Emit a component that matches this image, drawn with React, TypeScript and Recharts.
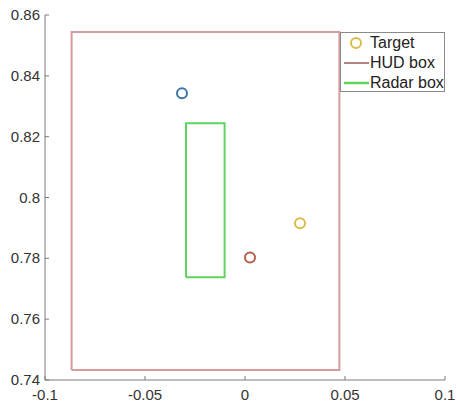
import { ScatterChart, Scatter, XAxis, YAxis } from "recharts";

// axis ticks
const xTicks = [-0.1, -0.05, 0, 0.05, 0.1];
const yTicks = [0.74, 0.76, 0.78, 0.8, 0.82, 0.84, 0.86];

// HUD box corners (x range, y range)
const hudX = [-0.0867, 0.0472];
const hudY = [0.7433, 0.8544];

// Radar box corners
const radarX = [-0.0295, -0.0102];
const radarY = [0.7738, 0.8244];

// circles
const blueDot = [{ x: -0.0315, y: 0.8343 }];
const redDot = [{ x: 0.0025, y: 0.7803 }];
const targetDot = [{ x: 0.0275, y: 0.7915 }];

const AXIS = "#7a7a7a";
const FONT = "'Liberation Sans', Arial, sans-serif";

function rect(xs: number[], ys: number[]) {
    return [
        { x: xs[0], y: ys[0] },
        { x: xs[1], y: ys[0] },
        { x: xs[1], y: ys[1] },
        { x: xs[0], y: ys[1] },
        { x: xs[0], y: ys[0] },
    ];
}

const ring = (color: string) => (p: any) => (
    <circle cx={p.cx} cy={p.cy} r={5} fill="none" stroke={color} strokeWidth={2} />
);

const noShape = () => <g />;

function XTick(p: any) {
    const v = p.payload.value;
    return (
        <g>
            <line x1={p.x} y1={p.y} x2={p.x} y2={p.y - 4} stroke={AXIS} />
            <text x={p.x} y={p.y + 20} textAnchor="middle" fontSize={15} fill="#333" fontFamily={FONT}>
                {v === 0 ? "0" : String(v)}
            </text>
        </g>
    );
}

function YTick(p: any) {
    const v = p.payload.value;
    return (
        <g>
            <line x1={p.x} y1={p.y} x2={p.x + 4} y2={p.y} stroke={AXIS} />
            <text x={p.x - 5} y={p.y + 5} textAnchor="end" fontSize={15} fill="#333" fontFamily={FONT}>
                {String(v)}
            </text>
        </g>
    );
}

function LegendBox() {
    const rows = [
        { label: "Target", kind: "ring", color: "#dcbc48" },
        { label: "HUD box", kind: "line", color: "#9a5a5a" },
        { label: "Radar box", kind: "line", color: "#5fd35f" },
    ];
    return (
        <div
            style={{
                position: "absolute",
                left: 340,
                top: 32,
                width: 105,
                height: 60,
                border: "1px solid #8a8a8a",
                background: "white",
                fontFamily: FONT,
                fontSize: 16,
                color: "#222",
                boxSizing: "border-box",
            }}
        >
            {rows.map((r, i) => (
                <div key={r.label} style={{ position: "absolute", left: 3, top: 1 + i * 19.8, height: 18, display: "flex", alignItems: "center" }}>
                    <svg width={25} height={18}>
                        {r.kind === "ring" ? (
                            <circle cx={12} cy={9} r={5} fill="none" stroke={r.color} strokeWidth={2} />
                        ) : (
                            <line x1={0} y1={9} x2={25} y2={9} stroke={r.color} strokeWidth={r.label === "HUD box" ? 1.5 : 2.5} />
                        )}
                    </svg>
                    <span style={{ marginLeft: 1 }}>{r.label}</span>
                </div>
            ))}
        </div>
    );
}

export default function App() {
    return (
        <div style={{ position: "absolute", left: 0, top: 0, width: 456, height: 407, background: "white" }}>
            <ScatterChart width={456} height={407} margin={{ top: 15, right: 11, bottom: 0, left: 0 }}>
                <XAxis
                    type="number"
                    dataKey="x"
                    domain={[-0.1, 0.1]}
                    ticks={xTicks}
                    height={27}
                    tickSize={0}
                    tickMargin={0}
                    tickLine={false}
                    axisLine={{ stroke: AXIS }}
                    tick={XTick}
                    interval={0}
                    allowDataOverflow
                />
                <YAxis
                    type="number"
                    dataKey="y"
                    domain={[0.74, 0.86]}
                    ticks={yTicks}
                    width={45}
                    tickSize={0}
                    tickMargin={0}
                    tickLine={false}
                    axisLine={{ stroke: AXIS }}
                    tick={YTick}
                    interval={0}
                    allowDataOverflow
                />
                <Scatter data={rect(hudX, hudY)} line={{ stroke: "#d49c9c", strokeWidth: 2 }} lineType="joint" shape={noShape} isAnimationActive={false} />
                <Scatter data={rect(radarX, radarY)} line={{ stroke: "#5fd35f", strokeWidth: 2 }} lineType="joint" shape={noShape} isAnimationActive={false} />
                <Scatter data={blueDot} shape={ring("#3c76a4")} isAnimationActive={false} />
                <Scatter data={redDot} shape={ring("#b85a4c")} isAnimationActive={false} />
                <Scatter data={targetDot} shape={ring("#dcbc48")} isAnimationActive={false} />
            </ScatterChart>
            <LegendBox />
        </div>
    );
}
